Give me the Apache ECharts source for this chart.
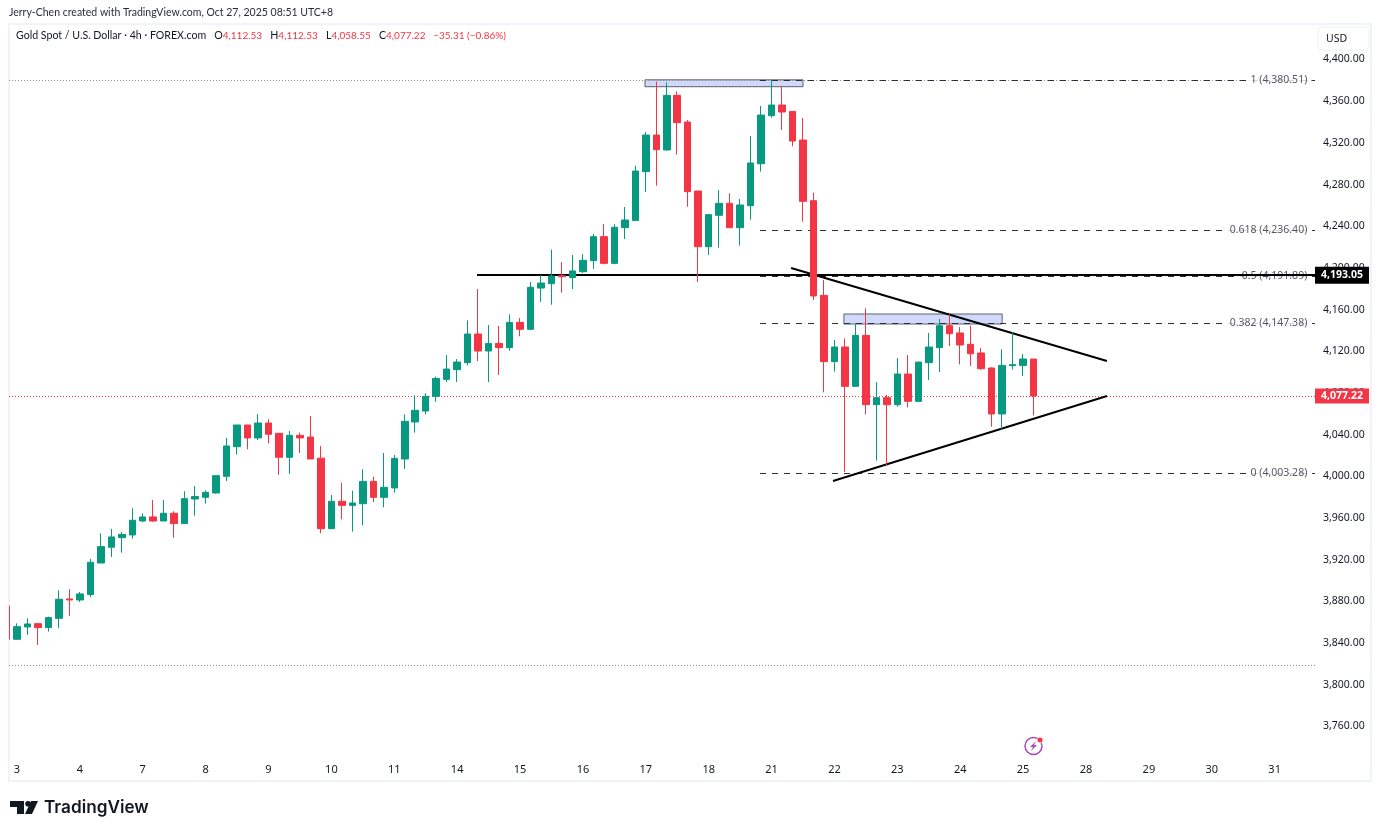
<!DOCTYPE html>
<html>
<head>
<meta charset="utf-8">
<title>Gold Spot / U.S. Dollar 4h</title>
<script src="https://cdn.jsdelivr.net/npm/echarts@6/dist/echarts.min.js"></script>
<style>
    html, body { margin: 0; padding: 0; background: #fff; }
    #chart-box { width: 1381px; height: 834px; }
</style>
</head>
<body>
<div id="chart-box"></div>
<script>
// 4h candles, left to right
const opens = [3875.7,3843.7,3855.5,3858.7,3854.9,3863.8,3882.4,3881.4,3886.6,3916.9,
    3932.0,3941.2,3943.8,3957.2,3961.1,3957.2,3964.6,3954.7,3978.3,3979.9,
    3984.1,4000.1,4028.5,4049.3,4036.9,4051.2,4041.3,4018.3,4039.4,4037.8,
    4017.5,3949.8,3976.1,3972.2,3973.8,3995.2,3979.9,3988.9,4016.7,4052.2,
    4062.7,4076.8,4093.1,4102.4,4109.1,4136.6,4120.3,4127.6,4123.5,4147.8,
    4141.1,4180.7,4184.9,4192.6,4190.7,4196.4,4207.0,4230.0,4204.4,4238.7,
    4245.4,4292.4,4327.5,4313.2,4365.6,4340.0,4273.8,4220.4,4250.5,4262.0,
    4238.6,4259.7,4300.0,4346.1,4356.3,4350.2,4322.7,4264.5,4173.7,4110.1,
    4124.1,4086.4,4135.3,4068.8,4075.5,4068.8,4098.2,4072.0,4109.1,4123.5,
    4144.6,4137.6,4126.7,4118.4,4104.0,4059.9,4106.2,4106.5,4112.53]
const closes = [3843.7,3855.8,3858.4,3854.9,3864.5,3882.1,3881.4,3887.2,3917.6,3932.6,
    3941.9,3944.4,3957.9,3961.1,3957.2,3964.6,3954.7,3978.6,3980.6,3984.7,
    4000.7,4029.2,4049.3,4036.9,4051.2,4040.4,4018.3,4039.4,4036.9,4016.7,
    3949.8,3976.1,3972.2,3974.5,3995.2,3979.9,3989.5,4017.3,4052.8,4063.4,
    4076.8,4094.0,4103.0,4109.7,4136.6,4120.3,4127.6,4123.5,4147.8,4141.1,
    4181.4,4185.5,4192.3,4191.6,4197.1,4207.3,4230.0,4204.4,4239.0,4246.0,
    4293.0,4327.5,4313.5,4365.6,4339.4,4273.2,4220.4,4251.1,4262.0,4238.6,
    4260.4,4300.7,4346.7,4356.3,4349.6,4321.8,4263.9,4173.1,4110.1,4124.1,
    4086.4,4135.3,4068.8,4075.5,4068.8,4098.2,4072.0,4109.7,4124.1,4144.6,
    4136.9,4126.1,4117.7,4103.3,4059.9,4106.5,4107.2,4112.6,4077.22]
const highs = [3875.7,3859.0,3863.8,3859.4,3865.4,3890.7,3891.7,3889.1,3920.8,3945.4,
    3949.5,3946.7,3969.4,3964.6,3977.4,3977.4,3966.5,3985.7,3990.8,3986.6,
    4000.7,4036.9,4049.3,4049.3,4059.9,4054.8,4041.3,4043.6,4042.0,4058.0,
    4029.2,3982.1,3994.0,3986.3,4006.8,3999.7,4022.4,4020.5,4059.5,4077.8,
    4079.7,4095.7,4116.4,4112.6,4149.7,4179.8,4145.2,4144.3,4155.5,4152.0,
    4186.5,4193.2,4217.6,4205.7,4212.4,4213.4,4232.6,4242.2,4241.9,4258.5,
    4298.1,4330.4,4378.7,4378.0,4369.4,4341.9,4273.8,4251.7,4274.8,4271.6,
    4266.1,4326.6,4355.4,4380.51,4374.6,4350.2,4343.9,4272.2,4188.4,4130.8,
    4132.4,4146.8,4161.2,4090.5,4078.1,4113.6,4116.4,4109.7,4137.6,4151.0,
    4155.5,4143.3,4144.6,4123.2,4104.6,4121.9,4138.2,4117.4,4112.53]
const lows = [3843.7,3843.7,3847.9,3838.3,3851.1,3854.6,3866.1,3879.5,3884.0,3916.9,
    3922.7,3926.8,3940.3,3956.3,3956.3,3957.2,3941.2,3954.7,3962.3,3973.9,
    3983.4,3995.6,4020.9,4026.0,4034.9,4031.7,4001.4,4002.3,4022.5,4016.7,
    3945.4,3949.8,3958.8,3947.0,3953.0,3975.4,3970.3,3984.4,4007.1,4041.9,
    4059.5,4071.4,4090.5,4090.5,4106.5,4110.7,4090.5,4097.3,4120.6,4134.4,
    4141.1,4167.3,4164.7,4176.3,4179.8,4195.2,4199.0,4203.5,4203.5,4227.8,
    4245.4,4272.9,4279.0,4312.5,4308.7,4258.8,4186.5,4212.4,4219.4,4238.6,
    4221.4,4246.3,4292.4,4344.2,4332.3,4316.7,4244.4,4169.2,4080.6,4100.5,
    4004.2,4086.4,4059.5,4015.1,4010.9,4066.9,4066.2,4072.0,4092.5,4100.1,
    4125.1,4107.5,4105.9,4102.4,4047.7,4045.1,4102.4,4096.3,4058.55]

// axes
const dayLabels = [3,4,7,8,9,10,11,14,15,16,17,18,21,22,23,24,25,28,29,30,31]
const dayTicks = [1,7,13,19,25,31,37,43,49,55,61,67,73,79,85,91,97,103,109,115,121]
const priceTicks = [3760,3800,3840,3880,3920,3960,4000,4040,4080,4120,4160,4200,4240,4280,4320,4360,4400]
const xMin = 0.24, xMax = 124.85
const yMin = 3730.75, yMax = 4434.06

// drawings
const fibRatios = ['1','0.618','0.5','0.382','0']
const fibPrices = [4380.51,4236.40,4191.89,4147.38,4003.28]
const fibStart = 71.9, fibLabelEnd = 124.4
const lastPrice = 4077.22
const levelPrice = 4193.05, levelStart = 44.9
const highLine = 4380.51, lowLine = 3819
const upperTrend = [[74.86,4199.9],[105,4110.7]]
const lowerTrend = [[78.86,3995.6],[105,4077.1]]
const zones = [[[60.92,4380.5],[76.0,4373.9]],[[79.9,4155.8],[95.0,4146.2]]]

const UP = '#089981', DOWN = '#F23645', INK = '#131722', FRAME = '#f0f3fa'
const FONT = '"Noto Sans", sans-serif'
const HEAD_FONT = 'Lato, sans-serif'

const fmt = v => v.toLocaleString('en-US', {minimumFractionDigits: 2, maximumFractionDigits: 2})
const candles = opens.map((o, i) => [i, o, closes[i], lows[i], highs[i]])

const chart = echarts.init(document.getElementById('chart-box'))
chart.setOption({
    animation: false,
    backgroundColor: '#fff',
    title: [{
        text: 'Jerry-Chen created with TradingView.com, Oct 27, 2025 08:51 UTC+8',
        left: 9, top: 7, padding: 0,
        textStyle: {fontFamily: HEAD_FONT, fontSize: 10.5, fontWeight: 'normal', color: '#2a2e39'}
    }, {
        text: '{k|Gold Spot / U.S. Dollar · 4h · FOREX.com   O}{r|4,112.53}{k|   H}{r|4,112.53}{k|   L}{r|4,058.55}{k|   C}{r|4,077.22}{r|   −35.31 (−0.86%)}',
        left: 16, top: 30, padding: 0,
        textStyle: {
            fontWeight: 'normal',
            rich: {
                k: {fontFamily: HEAD_FONT, fontSize: 10.6, fontWeight: 'normal', color: INK},
                r: {fontFamily: HEAD_FONT, fontSize: 10, fontWeight: 'normal', color: DOWN}
            }
        }
    }],
    grid: {left: 9, right: 66, top: 24, bottom: 77},
    xAxis: {
        type: 'value', min: xMin, max: xMax,
        splitLine: {show: false}, axisLine: {show: false}, axisTick: {show: false},
        axisLabel: {
            customValues: dayTicks, margin: 7, hideOverlap: false,
            fontFamily: FONT, fontSize: 11, color: INK,
            formatter: v => dayLabels[dayTicks.indexOf(v)]
        }
    },
    yAxis: {
        type: 'value', position: 'right', min: yMin, max: yMax,
        splitLine: {show: false}, axisLine: {show: false}, axisTick: {show: false},
        axisLabel: {
            customValues: priceTicks, margin: 8,
            fontFamily: FONT, fontSize: 10.5, color: INK, formatter: fmt
        }
    },
    series: [{
        // price zones behind the candles
        type: 'line', data: [], z: 1,
        markArea: {
            silent: true, z: 1,
            itemStyle: {color: '#d1d9fb', borderColor: '#5d606b', borderWidth: 1},
            data: zones.map(z => [{coord: z[0]}, {coord: z[1]}])
        }
    }, {
        // dotted high and low lines
        type: 'line', data: [], z: 2,
        markLine: {
            silent: true, z: 2, symbol: ['none', 'none'], animation: false,
            lineStyle: {type: [1, 2], width: 1, color: '#8a8d96'},
            label: {show: false},
            data: [{yAxis: highLine}, {yAxis: lowLine}]
        }
    }, {
        // fib levels
        type: 'line', data: [], z: 3,
        markLine: {
            silent: true, z: 3, symbol: ['none', 'none'], animation: false,
            lineStyle: {type: [6, 6], width: 1, color: '#2a2e39'},
            label: {show: false},
            data: fibPrices.map(p => [{coord: [fibStart, p]}, {coord: [xMax, p]}])
        }
    }, {
        type: 'scatter', z: 4, symbolSize: 0, silent: true,
        data: fibPrices.map((p, i) => ({value: [fibLabelEnd, p], name: fibRatios[i]})),
        label: {
            show: true, position: 'left', distance: 0, padding: [1, 3],
            backgroundColor: '#fff',
            fontFamily: FONT, fontSize: 10.5, color: '#2a2e39',
            formatter: d => d.name + ' (' + fmt(d.value[1]) + ')'
        }
    }, {
        // black horizontal level with its tag
        type: 'line', data: [], z: 6,
        markLine: {
            silent: true, z: 6, symbol: ['none', 'none'], animation: false,
            lineStyle: {type: 'solid', width: 2, color: '#000'},
            label: {
                show: true, position: 'end', distance: 0, padding: [3, 6],
                backgroundColor: '#000', color: '#fff',
                fontFamily: FONT, fontSize: 10.5, fontWeight: 'bold',
                formatter: () => fmt(levelPrice)
            },
            data: [[{coord: [levelStart, levelPrice]}, {coord: [xMax, levelPrice]}]]
        }
    }, {
        // last price line with its tag
        type: 'line', data: [], z: 6,
        markLine: {
            silent: true, z: 6, symbol: ['none', 'none'], animation: false,
            lineStyle: {type: [1, 2], width: 1, color: DOWN},
            label: {
                show: true, position: 'end', distance: 0, padding: [2, 6],
                backgroundColor: DOWN, color: '#fff',
                fontFamily: FONT, fontSize: 10.5, fontWeight: 'bold',
                formatter: () => fmt(lastPrice)
            },
            data: [{yAxis: lastPrice}]
        }
    }, {
        type: 'line', data: upperTrend, z: 7, symbol: 'none', silent: true,
        lineStyle: {color: '#000', width: 2}
    }, {
        type: 'line', data: lowerTrend, z: 7, symbol: 'none', silent: true,
        lineStyle: {color: '#000', width: 2}
    }, {
        type: 'candlestick', z: 10, clip: true, barWidth: 7,
        data: candles,
        itemStyle: {
            color: UP, color0: DOWN, borderColor: UP, borderColor0: DOWN,
            borderColorDoji: DOWN, borderWidth: 1
        }
    }],
    graphic: [
        // chart frame, under the candles
        {type: 'rect', z: 0, silent: true, shape: {x: 9, y: 24, width: 1362, height: 757},
            style: {fill: 'none', stroke: FRAME, lineWidth: 2}},
        // cuts the first candle off at the chart's left edge
        {type: 'rect', z: 15, silent: true, shape: {x: 0, y: 23, width: 8, height: 759},
            style: {fill: '#fff'}},
        {type: 'rect', z: 15, silent: true, shape: {x: 8, y: 23, width: 1, height: 759},
            style: {fill: FRAME}},
        // USD button
        {type: 'rect', z: 20, shape: {x: 1318, y: 27, width: 51, height: 23, r: 4},
            style: {fill: '#fff', stroke: '#eef0f5', lineWidth: 1}},
        {type: 'text', z: 21, x: 1326, y: 34,
            style: {text: 'USD', fontFamily: FONT, fontSize: 10.5, fill: INK}},
        // lightning icon
        {type: 'circle', z: 20, shape: {cx: 1033.5, cy: 746, r: 8.5},
            style: {fill: '#fff', stroke: '#ab47bc', lineWidth: 1.5}},
        {type: 'polygon', z: 21, shape: {points: [[1036, 741], [1030, 747], [1033, 747], [1031, 751], [1037, 745], [1034, 745]]},
            style: {fill: '#ab47bc'}},
        {type: 'circle', z: 22, shape: {cx: 1040, cy: 740, r: 2.8}, style: {fill: DOWN, stroke: '#fff', lineWidth: 0.5}},
        // TradingView logo
        {type: 'polygon', z: 20, shape: {points: [[10, 801], [24, 801], [24, 814], [17, 814], [17, 807], [10, 807]]},
            style: {fill: '#131722'}},
        {type: 'circle', z: 20, shape: {cx: 28, cy: 803.8, r: 2.8}, style: {fill: '#131722'}},
        {type: 'polygon', z: 20, shape: {points: [[31, 801], [38, 801], [32, 814], [25, 814]]},
            style: {fill: '#131722'}},
        {type: 'text', z: 20, x: 44, y: 799,
            style: {text: 'TradingView', fontFamily: 'Inter, sans-serif', fontSize: 17.2, fontWeight: 600, fill: '#131722'}}
    ]
})
</script>
</body>
</html>
